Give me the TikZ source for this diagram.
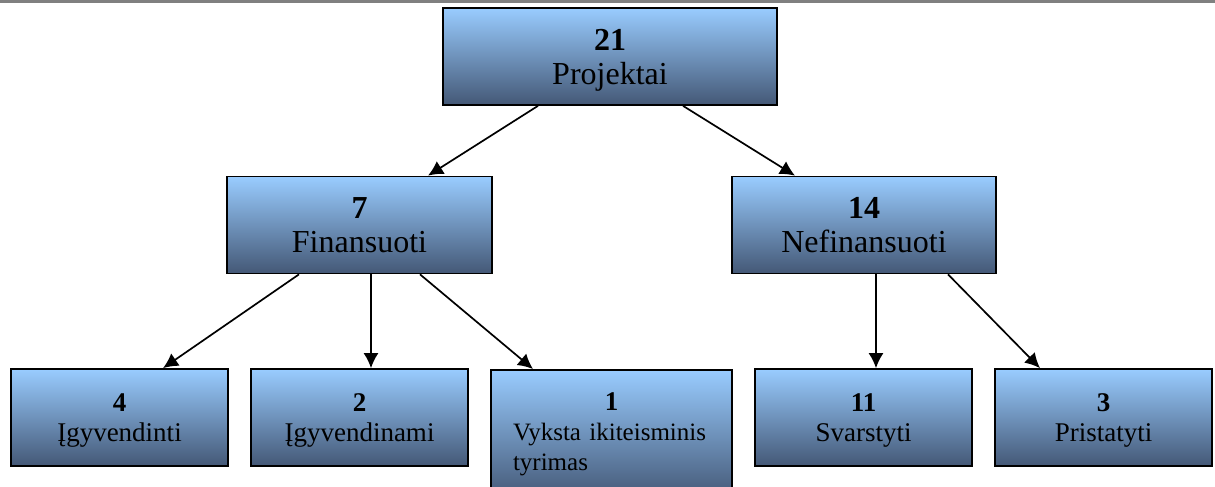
\documentclass[tikz,border=0pt]{standalone}
\usepackage{fontspec}
\setmainfont{Liberation Serif}
\usetikzlibrary{arrows.meta}

\definecolor{boxtop}{RGB}{153,204,255}
\definecolor{boxbottom}{RGB}{68,88,118}
\definecolor{rulegray}{RGB}{128,128,128}

\def\rowA{56.5}
\def\rowB{225}
\def\rowC{417.5}
% last line without its descender, so that it sits like the others
\newcommand{\nodesc}[1]{\raisebox{0pt}[\height][0pt]{#1}}

\begin{document}
\begin{tikzpicture}[x=1pt, y=-1pt, line width=1.7pt,
    box/.style={draw=black, top color=boxtop, bottom color=boxbottom, inner sep=0pt,
        align=center, minimum width=#1, minimum height=97},
    big/.style={font=\fontsize{32}{34}\selectfont},
    small/.style={font=\fontsize{27}{30}\selectfont},
    link/.style={-{Latex[length=15pt,width=15pt]}}]
    \clip (0,0) rectangle (1215,487);
    \fill[rulegray] (0,0) rectangle (1215,3);

    \node[box=334, big] (proj) at (610,\rowA) {\textbf{21}\\\nodesc{Projektai}};
    \node[box=265, big] (fin) at (359.5,\rowB) {\textbf{7}\\Finansuoti};
    \node[box=264, big] (nefin) at (864,\rowB) {\textbf{14}\\Nefinansuoti};

    \node[box=217, small] (igy) at (119.5,\rowC) {\textbf{4}\\\nodesc{Įgyvendinti}};
    \node[box=217, small] (igyn) at (359.5,\rowC) {\textbf{2}\\\nodesc{Įgyvendinami}};
    \node[box=241, minimum height=129, anchor=north, align=left, text width=197,
        font=\fontsize{25}{30}\selectfont] (tyr) at (611.5,369)
        {\makebox[197pt]{\fontsize{27}{30}\selectfont\textbf{1}}\\Vyksta ikiteisminis\\tyrimas};
    \node[box=217, small] (svar) at (863.5,\rowC) {\textbf{11}\\\nodesc{Svarstyti}};
    \node[box=217, small] (prist) at (1103.5,\rowC) {\textbf{3}\\\nodesc{Pristatyti}};

    \draw[link] ([xshift=-72]proj.south) -- ([xshift=68.5]fin.north);
    \draw[link] ([xshift=73]proj.south) -- ([xshift=-69]nefin.north);
    \draw[link] ([xshift=-60.5]fin.south) -- ([xshift=43.5]igy.north);
    \draw[link] ([xshift=11.5]fin.south) -- ([xshift=11.5]igyn.north);
    \draw[link] ([xshift=60.5]fin.south) -- ([xshift=-78.5]tyr.north);
    \draw[link] ([xshift=12]nefin.south) -- ([xshift=12.5]svar.north);
    \draw[link] ([xshift=84]nefin.south) -- ([xshift=-63.5]prist.north);
\end{tikzpicture}
\end{document}
